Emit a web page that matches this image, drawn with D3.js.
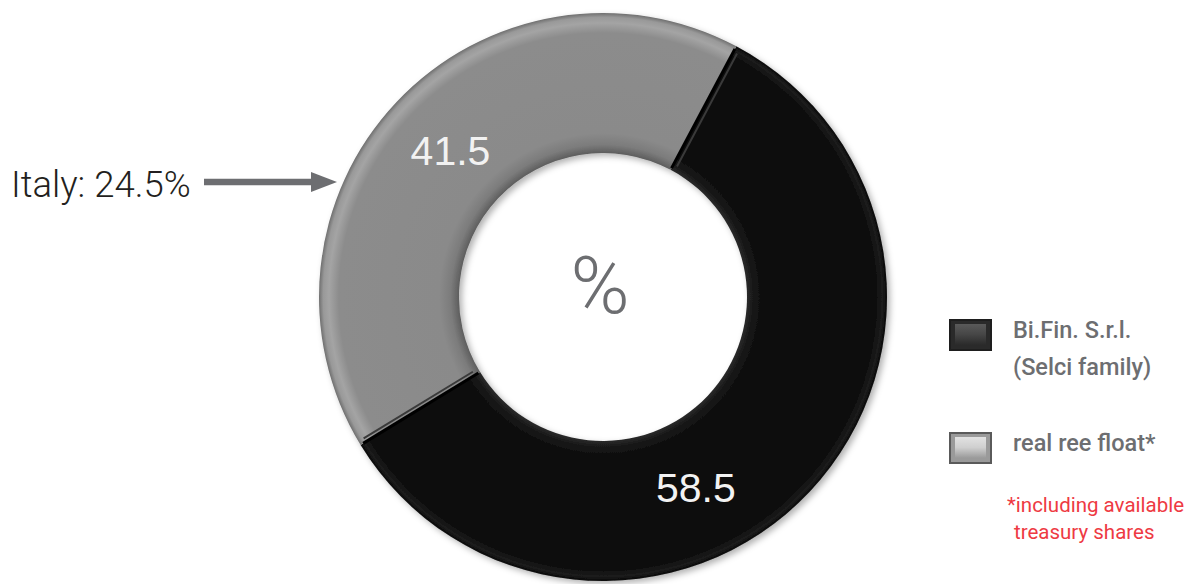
<!DOCTYPE html>
<html>
<head>
<meta charset="utf-8">
<script src="https://cdn.jsdelivr.net/npm/d3@7"></script>
<style>
  html, body { margin: 0; padding: 0; background: #fff; }
  svg { display: block; }
</style>
</head>
<body>
<div id="chart"></div>
<script>
// dati della torta
const categories = ["Bi.Fin. S.r.l. (Selci family)", "real ree float*"];
const values = [58.5, 41.5];
const valueLabels = ["58.5", "41.5"];
const legendLines = [["Bi.Fin. S.r.l.", "(Selci family)"], ["real ree float*"]];
const noteLines = ["*including available", "treasury shares"];
const calloutText = "Italy: 24.5%";

const width = 1192, height = 584;
const cx = 603, cy = 297;
const outerR = 284, innerR = 144;

const svg = d3.select("#chart").append("svg")
    .attr("width", width).attr("height", height);

const defs = svg.append("defs");

// ombra leggera sotto la ciambella
const shadow = defs.append("filter").attr("id", "shadow")
    .attr("x", "-10%").attr("y", "-10%").attr("width", "120%").attr("height", "120%");
shadow.append("feDropShadow").attr("dx", 3).attr("dy", 3)
    .attr("stdDeviation", 3).attr("flood-color", "#000").attr("flood-opacity", 0.3);

// gradienti radiali per l'effetto smussato
const k = innerR / outerR;
const gradStops = [
    [[0, "#000"], [k, "#2a2a2a"], [k + 0.025, "#151515"], [k + 0.06, "#0e0e0e"], [0.96, "#0e0e0e"], [0.985, "#1c1c1c"], [1, "#080808"]],
    [[0, "#555"], [k, "#5e5e5e"], [k + 0.03, "#7c7c7c"], [k + 0.07, "#8a8a8a"], [0.93, "#8c8c8c"], [0.965, "#a4a4a4"], [0.985, "#999"], [1, "#6f6f6f"]]
];
gradStops.forEach((stops, i) => {
    const g = defs.append("radialGradient").attr("id", "slice" + i)
        .attr("gradientUnits", "userSpaceOnUse")
        .attr("cx", 0).attr("cy", 0).attr("r", outerR);
    stops.forEach(([o, c]) => g.append("stop").attr("offset", o).attr("stop-color", c));
});

const pie = d3.pie().sort(null).value(d => d)
    .startAngle(28 * Math.PI / 180)
    .endAngle(28 * Math.PI / 180 + 2 * Math.PI);
const arc = d3.arc().innerRadius(innerR).outerRadius(outerR);
const arcs = pie(values);

const donut = svg.append("g").attr("transform", `translate(${cx},${cy})`);
donut.append("g").attr("filter", "url(#shadow)")
  .selectAll("path").data(arcs).join("path")
    .attr("d", arc)
    .attr("fill", (d, i) => `url(#slice${i})`);

// linee di separazione con riflesso
donut.selectAll("line.sep").data(arcs).join("line")
    .attr("class", "sep")
    .attr("x1", d => Math.sin(d.startAngle) * (innerR + 2))
    .attr("y1", d => -Math.cos(d.startAngle) * (innerR + 2))
    .attr("x2", d => Math.sin(d.startAngle) * (outerR - 3))
    .attr("y2", d => -Math.cos(d.startAngle) * (outerR - 3))
    .attr("stroke", "#000").attr("stroke-width", 3);
donut.selectAll("line.hl").data(arcs).join("line")
    .attr("class", "hl")
    .attr("transform", d => {
        const a = d.startAngle;
        return `translate(${Math.cos(a) * 4},${Math.sin(a) * 4})`;
    })
    .attr("x1", d => Math.sin(d.startAngle) * (innerR + 6))
    .attr("y1", d => -Math.cos(d.startAngle) * (innerR + 6))
    .attr("x2", d => Math.sin(d.startAngle) * (outerR - 6))
    .attr("y2", d => -Math.cos(d.startAngle) * (outerR - 6))
    .attr("stroke", "#3a3a3a").attr("stroke-width", 2);

// etichette dei valori
const labelAngles = [154, 314];
const labelR = 212;
donut.selectAll("text.val").data(arcs).join("text")
    .attr("class", "val")
    .attr("x", (d, i) => Math.sin(labelAngles[i] * Math.PI / 180) * labelR)
    .attr("y", (d, i) => -Math.cos(labelAngles[i] * Math.PI / 180) * labelR)
    .attr("dy", "0.36em")
    .attr("text-anchor", "middle")
    .style("font-family", "'Liberation Sans', Arial, sans-serif")
    .style("font-size", "41px")
    .style("fill", "#f2f2f2")
    .text((d, i) => valueLabels[i]);

// simbolo al centro
svg.append("text")
    .attr("x", 600).attr("y", 313)
    .attr("text-anchor", "middle")
    .style("font-family", "Roboto, sans-serif")
    .style("font-weight", 300)
    .style("font-size", "80px")
    .style("fill", "#6d6e71")
    .text("%");

// richiamo a sinistra
svg.append("text")
    .attr("x", 11).attr("y", 197)
    .style("font-family", "Roboto, sans-serif")
    .style("font-weight", 300)
    .style("font-size", "36.5px")
    .style("fill", "#231f20")
    .text(calloutText);

svg.append("line")
    .attr("x1", 204).attr("y1", 182).attr("x2", 315).attr("y2", 182)
    .attr("stroke", "#6d6e71").attr("stroke-width", 6.5);
svg.append("path")
    .attr("d", "M311,172 L337,182 L311,192 Z")
    .attr("fill", "#6d6e71");

// legenda
const boxColors = [
    { edge: "#1e1e1e", top: "#5a5a5a", mid: "#464646", bottom: "#2a2a2a" },
    { edge: "#5a5a5a", top: "#e2e2e2", mid: "#cfcfcf", bottom: "#9a9a9a" }
];
boxColors.forEach((c, i) => {
    const g = defs.append("linearGradient").attr("id", "box" + i)
        .attr("x1", 0).attr("y1", 0).attr("x2", 0).attr("y2", 1);
    g.append("stop").attr("offset", 0).attr("stop-color", c.top);
    g.append("stop").attr("offset", 0.5).attr("stop-color", c.mid);
    g.append("stop").attr("offset", 1).attr("stop-color", c.bottom);
});

const legendY = [319, 432];
const legend = svg.append("g");
categories.forEach((cat, i) => {
    const y0 = legendY[i];
    legend.append("rect")
        .attr("x", 949).attr("y", y0).attr("width", 43).attr("height", 32)
        .attr("fill", boxColors[i].edge);
    legend.append("rect")
        .attr("x", 951).attr("y", y0 + 2).attr("width", 39).attr("height", 28)
        .attr("fill", boxColors[i].bottom);
    legend.append("rect")
        .attr("x", 955).attr("y", y0 + 5).attr("width", 31).attr("height", 21)
        .attr("fill", `url(#box${i})`);
    legendLines[i].forEach((line, j) => {
        legend.append("text")
            .attr("x", 1013).attr("y", y0 + 19 + j * 37)
            .style("font-family", "Roboto, sans-serif")
            .style("font-weight", 500)
            .style("font-size", "23.5px")
            .style("fill", "#6d6e71")
            .text(line);
    });
});

// nota in rosso
noteLines.forEach((line, j) => {
    svg.append("text")
        .attr("x", j === 0 ? 1007 : 1014).attr("y", 512 + j * 27)
        .style("font-family", "Roboto, sans-serif")
        .style("font-size", "20.5px")
        .style("fill", "#ee3a43")
        .text(line);
});
</script>
</body>
</html>
